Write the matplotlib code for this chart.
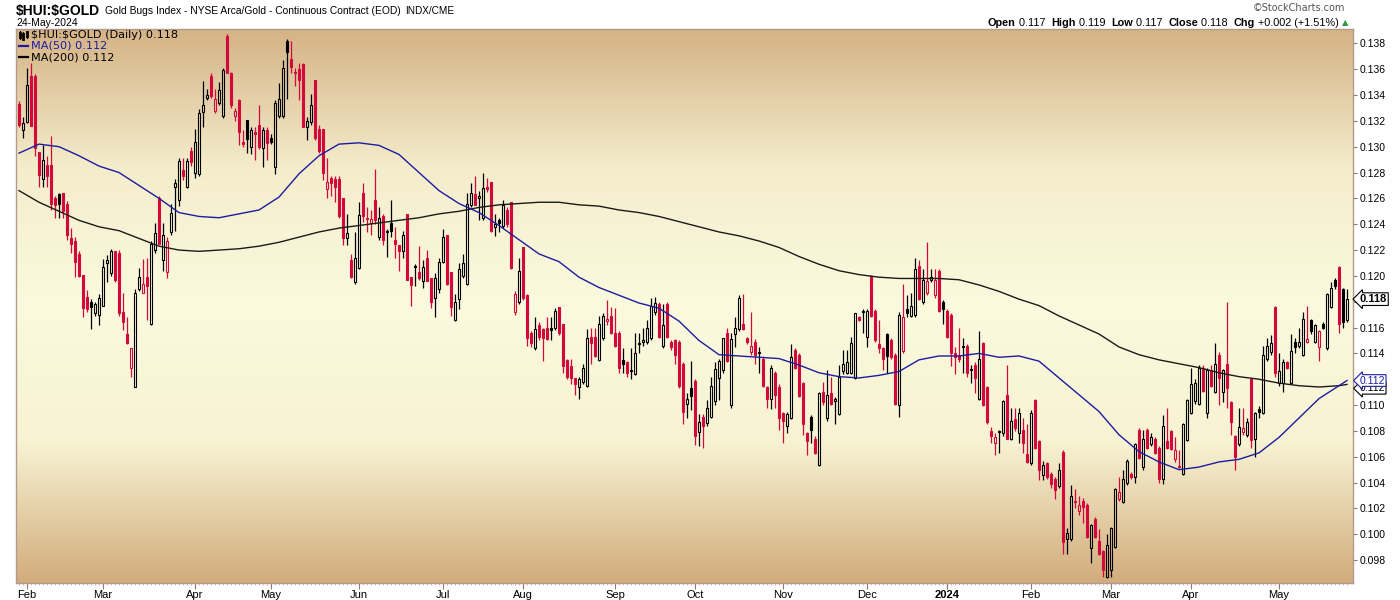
import matplotlib
matplotlib.use("Agg")
import matplotlib.pyplot as plt
import matplotlib.transforms as mtransforms
from matplotlib.collections import LineCollection
from matplotlib.colors import LinearSegmentedColormap
from matplotlib.lines import Line2D
import numpy as np
import pandas as pd

# daily candles, prices in units of 0.0001 (HUI / gold ratio)
opens = [
    1333, 1313, 1319, 1355, 1355, 1296, 1275, 1286, 1286, 1260,
    1263, 1264, 1256, 1229, 1227, 1217, 1201, 1184, 1180, 1171, 1170,
    1177, 1210, 1202, 1219, 1218, 1172, 1155, 1129, 1114, 1190,
    1187, 1199, 1163, 1220, 1260, 1212, 1203, 1234, 1269, 1259,
    1282, 1269, 1297, 1280, 1279, 1327, 1338, 1355, 1328, 1334,
    1324, 1386, 1357, 1324, 1336, 1304, 1321, 1300, 1311, 1317,
    1299, 1313, 1307, 1284, 1324, 1324, 1382, 1368, 1358, 1360,
    1364, 1315, 1319, 1352, 1314, 1314, 1267, 1276, 1275, 1275,
    1260, 1229, 1212, 1195, 1206, 1264, 1244, 1241, 1259, 1230,
    1246, 1235, 1241, 1228, 1224, 1219, 1248, 1199, 1208, 1203,
    1196, 1214, 1198, 1183, 1190, 1211, 1232, 1203, 1166, 1182,
    1200, 1194, 1255, 1263, 1260, 1245, 1269, 1273, 1238, 1243,
    1239, 1251, 1257, 1172, 1180, 1222, 1185, 1156, 1144, 1162,
    1159, 1160, 1160, 1160, 1176, 1163, 1135, 1130, 1121, 1114,
    1118, 1115, 1153, 1153, 1135, 1152, 1165, 1169, 1156, 1156,
    1135, 1133, 1127, 1124, 1148, 1149, 1149, 1152, 1172, 1178,
    1146, 1178, 1149, 1150, 1149, 1132, 1101, 1113, 1119, 1079,
    1091, 1086, 1091, 1103, 1121, 1127, 1156, 1100, 1155, 1159,
    1163, 1152, 1141, 1149, 1141, 1136, 1114, 1105, 1125, 1114,
    1094, 1084, 1090, 1143, 1139, 1117, 1078, 1091, 1074, 1054,
    1110, 1090, 1109, 1103, 1093, 1126, 1125, 1125, 1121, 1168,
    1173, 1153, 1200, 1173, 1147, 1144, 1155, 1150, 1139, 1100,
    1142, 1174, 1169, 1170, 1208, 1180, 1187, 1197, 1185, 1204,
    1180, 1173, 1170, 1140, 1139, 1145, 1146, 1128, 1131, 1105, 1148,
    1114, 1080, 1071, 1080, 1078, 1108, 1074, 1089, 1078, 1081,
    1062, 1055, 1104, 1072, 1046, 1055, 1047, 1043, 1037, 1064,
    996, 996, 1025, 1018, 1026, 1023, 989, 1012, 995, 987,
    967, 972, 990, 1027, 1025, 1040, 1047, 1044, 1081, 1052,
    1081, 1070, 1074, 1067, 1043, 1072, 1080, 1058, 1053, 1047,
    1073, 1094, 1103, 1101, 1129, 1094, 1127, 1110, 1139, 1110,
    1132, 1102, 1076, 1070, 1079, 1077, 1120, 1074, 1097, 1094,
    1136, 1141, 1176, 1117, 1117, 1133, 1117, 1149, 1146, 1139,
    1149, 1166, 1149, 1145, 1163, 1144, 1176, 1197, 1207, 1190, 1166,
]
highs = [
    1335, 1323, 1361, 1365, 1356, 1296, 1301, 1293, 1308, 1262,
    1264, 1264, 1258, 1237, 1230, 1219, 1201, 1189, 1182, 1180, 1186,
    1213, 1216, 1221, 1219, 1220, 1187, 1168, 1144, 1190, 1206,
    1213, 1214, 1227, 1241, 1262, 1241, 1230, 1256, 1275, 1291,
    1291, 1291, 1300, 1314, 1329, 1351, 1345, 1357, 1345, 1350,
    1361, 1387, 1358, 1330, 1337, 1313, 1321, 1315, 1315, 1332,
    1315, 1315, 1310, 1336, 1349, 1367, 1383, 1382, 1361, 1365,
    1365, 1323, 1341, 1352, 1317, 1314, 1291, 1277, 1277, 1277,
    1260, 1248, 1217, 1234, 1257, 1272, 1253, 1251, 1283, 1253,
    1248, 1236, 1259, 1238, 1224, 1235, 1248, 1199, 1209, 1223,
    1212, 1220, 1198, 1202, 1214, 1236, 1232, 1203, 1186, 1210,
    1217, 1264, 1272, 1277, 1266, 1280, 1276, 1273, 1248, 1245,
    1259, 1253, 1257, 1188, 1214, 1222, 1186, 1157, 1168, 1164,
    1160, 1168, 1168, 1175, 1176, 1163, 1136, 1136, 1121, 1122,
    1132, 1159, 1160, 1160, 1169, 1171, 1181, 1176, 1175, 1157,
    1144, 1134, 1144, 1156, 1156, 1160, 1166, 1183, 1184, 1180,
    1178, 1180, 1150, 1151, 1150, 1133, 1109, 1134, 1120, 1093,
    1093, 1104, 1122, 1133, 1136, 1152, 1160, 1156, 1168, 1185,
    1186, 1153, 1172, 1151, 1145, 1138, 1115, 1131, 1126, 1116,
    1095, 1095, 1147, 1144, 1140, 1118, 1079, 1092, 1076, 1110,
    1118, 1127, 1122, 1106, 1131, 1143, 1143, 1153, 1171, 1169,
    1174, 1174, 1201, 1174, 1166, 1145, 1156, 1152, 1140, 1172,
    1194, 1185, 1187, 1214, 1212, 1205, 1226, 1205, 1205, 1205,
    1181, 1174, 1171, 1145, 1160, 1152, 1147, 1131, 1133, 1157, 1149,
    1115, 1083, 1078, 1081, 1104, 1131, 1098, 1098, 1098, 1090,
    1085, 1096, 1105, 1073, 1057, 1056, 1048, 1044, 1055, 1065,
    1005, 1038, 1035, 1030, 1028, 1024, 1008, 1013, 1004, 988,
    1000, 1006, 1036, 1044, 1050, 1058, 1048, 1071, 1082, 1081,
    1082, 1078, 1075, 1068, 1092, 1098, 1081, 1075, 1065, 1086,
    1105, 1129, 1120, 1131, 1131, 1129, 1131, 1148, 1141, 1128,
    1180, 1103, 1077, 1098, 1098, 1090, 1121, 1095, 1099, 1146,
    1152, 1154, 1177, 1140, 1136, 1134, 1155, 1152, 1160, 1172,
    1177, 1167, 1163, 1158, 1164, 1187, 1195, 1198, 1208, 1191, 1190,
]
lows = [
    1315, 1307, 1318, 1316, 1293, 1269, 1269, 1269, 1251, 1245,
    1245, 1245, 1228, 1218, 1199, 1199, 1168, 1172, 1159, 1169, 1162,
    1177, 1195, 1200, 1195, 1169, 1158, 1147, 1122, 1114, 1188,
    1187, 1166, 1162, 1218, 1225, 1204, 1198, 1232, 1235, 1254,
    1274, 1268, 1285, 1276, 1277, 1315, 1336, 1338, 1326, 1332,
    1322, 1358, 1330, 1320, 1301, 1300, 1295, 1294, 1290, 1298,
    1284, 1290, 1302, 1279, 1322, 1322, 1337, 1357, 1347, 1336,
    1315, 1305, 1317, 1305, 1295, 1274, 1260, 1262, 1257, 1245,
    1224, 1224, 1198, 1194, 1205, 1242, 1234, 1232, 1240, 1228,
    1224, 1215, 1230, 1214, 1204, 1214, 1197, 1177, 1192, 1197,
    1191, 1196, 1175, 1168, 1187, 1210, 1193, 1169, 1165, 1174,
    1198, 1193, 1253, 1255, 1243, 1243, 1265, 1234, 1231, 1234,
    1237, 1238, 1205, 1170, 1178, 1181, 1146, 1145, 1143, 1150,
    1134, 1150, 1150, 1158, 1154, 1125, 1120, 1116, 1108, 1105,
    1116, 1114, 1132, 1137, 1134, 1150, 1162, 1155, 1145, 1125,
    1125, 1122, 1120, 1123, 1140, 1146, 1147, 1150, 1170, 1152,
    1144, 1152, 1143, 1132, 1113, 1085, 1090, 1096, 1069, 1068,
    1067, 1084, 1090, 1100, 1104, 1125, 1133, 1098, 1145, 1157,
    1158, 1147, 1139, 1132, 1125, 1114, 1098, 1097, 1098, 1081,
    1071, 1078, 1089, 1128, 1106, 1077, 1061, 1071, 1062, 1053,
    1100, 1088, 1100, 1085, 1092, 1124, 1124, 1124, 1120, 1165,
    1156, 1145, 1168, 1149, 1140, 1127, 1125, 1136, 1100, 1091,
    1140, 1168, 1168, 1168, 1181, 1178, 1185, 1195, 1183, 1172,
    1163, 1152, 1130, 1124, 1133, 1125, 1122, 1117, 1109, 1104, 1099,
    1085, 1071, 1061, 1063, 1076, 1074, 1073, 1080, 1071, 1063,
    1055, 1054, 1066, 1042, 1042, 1043, 1036, 1027, 1036, 985,
    985, 995, 1020, 1015, 1009, 997, 978, 997, 984, 967,
    966, 967, 989, 1026, 1024, 1038, 1043, 1040, 1058, 1050,
    1066, 1068, 1062, 1040, 1039, 1066, 1065, 1056, 1051, 1046,
    1072, 1093, 1101, 1100, 1110, 1090, 1114, 1109, 1100, 1102,
    1098, 1077, 1050, 1068, 1077, 1075, 1067, 1060, 1090, 1093,
    1134, 1139, 1122, 1115, 1110, 1128, 1116, 1140, 1144, 1138,
    1148, 1155, 1148, 1134, 1159, 1143, 1175, 1190, 1156, 1160, 1164,
]
closes = [
    1317, 1318, 1348, 1316, 1299, 1278, 1290, 1277, 1256, 1255,
    1256, 1250, 1232, 1225, 1211, 1200, 1175, 1174, 1176, 1178, 1183,
    1207, 1212, 1219, 1197, 1171, 1164, 1148, 1144, 1187, 1199,
    1194, 1192, 1225, 1233, 1225, 1232, 1227, 1249, 1272, 1289,
    1277, 1289, 1288, 1304, 1326, 1332, 1340, 1339, 1337, 1344,
    1359, 1357, 1332, 1328, 1311, 1302, 1306, 1313, 1310, 1300,
    1313, 1303, 1304, 1334, 1337, 1361, 1373, 1362, 1357, 1352,
    1315, 1320, 1332, 1307, 1297, 1280, 1273, 1272, 1269, 1246,
    1229, 1233, 1199, 1214, 1247, 1246, 1245, 1244, 1243, 1245,
    1228, 1234, 1235, 1225, 1219, 1232, 1197, 1193, 1207, 1198,
    1207, 1196, 1180, 1198, 1211, 1230, 1194, 1176, 1180, 1205,
    1210, 1256, 1264, 1255, 1262, 1268, 1267, 1235, 1240, 1241,
    1255, 1240, 1206, 1186, 1204, 1183, 1152, 1148, 1159, 1153,
    1152, 1151, 1158, 1173, 1156, 1130, 1122, 1121, 1116, 1120,
    1129, 1152, 1148, 1138, 1163, 1169, 1167, 1156, 1146, 1129,
    1132, 1125, 1126, 1140, 1147, 1150, 1160, 1177, 1179, 1153,
    1162, 1153, 1145, 1139, 1115, 1095, 1105, 1107, 1076, 1087,
    1084, 1098, 1115, 1128, 1134, 1152, 1134, 1151, 1160, 1183,
    1159, 1149, 1146, 1139, 1140, 1115, 1105, 1129, 1108, 1090,
    1088, 1093, 1137, 1129, 1107, 1085, 1072, 1081, 1063, 1109,
    1102, 1108, 1101, 1105, 1122, 1132, 1133, 1148, 1171, 1166,
    1172, 1173, 1169, 1150, 1144, 1136, 1138, 1137, 1101, 1170,
    1168, 1171, 1177, 1205, 1182, 1197, 1196, 1199, 1197, 1173,
    1174, 1153, 1140, 1137, 1136, 1146, 1125, 1127, 1121, 1136, 1100,
    1087, 1076, 1075, 1079, 1103, 1074, 1088, 1082, 1094, 1071,
    1056, 1094, 1067, 1050, 1054, 1044, 1039, 1034, 1050, 994,
    1001, 1030, 1026, 1023, 1021, 998, 1007, 998, 985, 972,
    992, 1005, 1035, 1033, 1043, 1057, 1044, 1070, 1059, 1074,
    1067, 1075, 1063, 1043, 1084, 1067, 1066, 1065, 1052, 1085,
    1104, 1116, 1117, 1129, 1111, 1127, 1115, 1132, 1121, 1127,
    1113, 1087, 1060, 1083, 1082, 1087, 1073, 1094, 1095, 1139,
    1146, 1148, 1125, 1126, 1133, 1129, 1142, 1145, 1149, 1167,
    1151, 1157, 1162, 1157, 1160, 1186, 1191, 1192, 1163, 1164, 1182,
]

# moving averages read every 5th session plus the last one (same units)
ma50_5d = [
    1295, 1302, 1300, 1293, 1285, 1280, 1270, 1260, 1249, 1246,
    1245, 1248, 1251, 1261, 1279, 1293, 1302, 1303, 1301, 1294,
    1280, 1266, 1256, 1249, 1239, 1228, 1217, 1211, 1199, 1191,
    1185, 1179, 1175, 1165, 1150, 1139, 1138, 1137, 1136, 1131,
    1125, 1122, 1121, 1123, 1126, 1135, 1138, 1138, 1140, 1137,
    1138, 1134, 1121, 1108, 1095, 1077, 1064, 1056, 1050, 1052,
    1056, 1058, 1063, 1075, 1090, 1105, 1115, 1119,
]
ma200_5d = [
    1266, 1257, 1250, 1243, 1238, 1235, 1229, 1223, 1220, 1219,
    1220, 1221, 1223, 1226, 1230, 1234, 1237, 1239, 1241, 1243,
    1245, 1248, 1250, 1253, 1255, 1256, 1257, 1257, 1255, 1254,
    1251, 1249, 1246, 1242, 1238, 1234, 1231, 1227, 1222, 1215,
    1209, 1204, 1201, 1199, 1198, 1198, 1198, 1197, 1193, 1188,
    1182, 1177, 1169, 1162, 1155, 1145, 1139, 1135, 1132, 1129,
    1125, 1122, 1120, 1117, 1115, 1114, 1115, 1116,
]

last_day = '2024-05-24'
nyse_holidays = ['2023-01-16', '2023-02-20', '2023-04-07', '2023-05-29',
                 '2023-06-19', '2023-07-04', '2023-09-04', '2023-11-23',
                 '2023-12-25', '2024-01-01', '2024-01-15', '2024-02-19',
                 '2024-03-29']

RED = '#d20a3c'
BLUE = '#1c1ca0'
NARROW = ['Liberation Sans Narrow', 'Liberation Sans', 'DejaVu Sans']

o = np.array(opens) / 1e4
hi = np.array(highs) / 1e4
lo = np.array(lows) / 1e4
c = np.array(closes) / 1e4
n = len(c)
idx = np.arange(n)
dates = pd.bdate_range(end=last_day, periods=n, freq='C', holidays=nyse_holidays)

plt.rcParams['font.family'] = ['Liberation Sans', 'DejaVu Sans']

W, H = 1400, 600
fig = plt.figure(figsize=(W / 100, H / 100), dpi=100)
L, R, T, B = 16, 1353, 29, 583
ax = fig.add_axes([L / W, 1 - B / H, (R - L) / W, (B - T) / H])
ymin, ymax = 0.096228, 0.13911
xmin, xmax = -0.75, n + 0.5

# background gradient
bg = LinearSegmentedColormap.from_list('bg', ['#d2ac7c', '#f7f2d2', '#fbfade', '#f4edcc', '#d5b386'])
ax.imshow(np.linspace(0, 1, 256).reshape(-1, 1), cmap=bg, origin='lower', aspect='auto',
          extent=[xmin, xmax, ymin, ymax], zorder=0, interpolation='bilinear')

# candles: black/red = up/down vs previous close, filled when close < open
prev = np.r_[o[0], c[:-1]]
edge = np.where(c >= prev, 'black', RED)
face = [e if cc < oo else 'none' for e, cc, oo in zip(edge, c, o)]
body_lo = np.minimum(o, c)
body_hi = np.maximum(o, c)
ax.bar(idx, np.maximum(body_hi - body_lo, 0.00004), bottom=body_lo, width=0.6,
       color=face, edgecolor=edge, linewidth=0.8, zorder=3)
segs = [[(i, body_hi[i]), (i, max(hi[i], body_hi[i]))] for i in idx]
segs += [[(i, min(lo[i], body_lo[i])), (i, body_lo[i])] for i in idx]
ax.add_collection(LineCollection(segs, colors=list(edge) * 2, linewidths=0.9, zorder=2))

# moving averages
k = np.r_[np.arange(0, n - 1, 5), n - 1]
ma50 = np.array(ma50_5d) / 1e4
ma200 = np.array(ma200_5d) / 1e4
ax.plot(k, ma200, color='#1a1a1a', lw=1.0, zorder=4)
ax.plot(k, ma50, color=BLUE, lw=1.0, zorder=4)

ax.set_xlim(xmin, xmax)
ax.set_ylim(ymin, ymax)

# axes styling
for s in ax.spines.values():
    s.set_color('#b29a8c')
    s.set_linewidth(1.0)
tags = [c[-1], ma50[-1], ma200[-1]]
yt = np.arange(0.098, 0.1381, 0.002)
ax.yaxis.tick_right()
ax.set_yticks(yt)
ax.set_yticklabels(['' if min(abs(v - t) for t in tags) < 0.0006 else f'{v:.3f}' for v in yt])
ax.tick_params(axis='y', length=3, width=0.8, color='#8a7a70', pad=2, labelsize=7.5)

starts = [i for i in range(1, n) if dates[i].month != dates[i - 1].month]
ax.set_xticks(starts)
ax.set_xticklabels(['2024' if dates[i].month == 1 else dates[i].strftime('%b') for i in starts],
                   family=NARROW)
for lab, i in zip(ax.get_xticklabels(), starts):
    if dates[i].month == 1:
        lab.set_fontweight('bold')
ax.set_xticks(idx, minor=True)
ax.tick_params(axis='x', which='major', length=4, width=0.8, color='#8a7a70', pad=1, labelsize=8)
ax.tick_params(axis='x', which='minor', length=1.5, width=0.5, color='#b7a396')

# right-side value tags
blend = mtransforms.blended_transform_factory(ax.transAxes, ax.transData)
ax.text(1.005, c[-1], f'{c[-1]:.3f}', transform=blend, ha='left', va='center', fontsize=8,
        fontweight='bold', clip_on=False, zorder=6,
        bbox=dict(boxstyle='larrow,pad=0.12', fc='white', ec='black', lw=0.8))
ax.text(1.005, ma50[-1], f'{ma50[-1]:.3f}', transform=blend, ha='left', va='center', fontsize=7.5,
        color=BLUE, clip_on=False, zorder=7,
        bbox=dict(boxstyle='larrow,pad=0.08', fc='white', ec=BLUE, lw=0.8))
ax.text(1.005, ma200[-1] - 0.0003, f'{ma200[-1]:.3f}', transform=blend, ha='left', va='center',
        fontsize=7.5, color='black', clip_on=False, zorder=6,
        bbox=dict(boxstyle='larrow,pad=0.08', fc='white', ec='black', lw=0.8))

# header texts in pixel coordinates
pix = mtransforms.IdentityTransform()
renderer = fig.canvas.get_renderer()


def put(x, y, s, **kw):
    return fig.text(x, H - y, s, transform=pix, va='center', **kw)


def chain(x, y, parts):
    for s, kw in parts:
        t = put(x, y, s, **kw)
        x = t.get_window_extent(renderer).x1
    return x


x = chain(16, 11, [(r'\$HUI:\$GOLD', dict(fontsize=10, fontweight='bold', family=NARROW))])
x = chain(x + 5, 11, [('Gold Bugs Index - NYSE Arca/Gold - Continuous Contract (EOD)', dict(fontsize=7.4))])
put(x + 4, 11, 'INDX/CME', fontsize=7.2)
put(16, 23, '24-May-2024', fontsize=7.5)
put(1345, 8, '©StockCharts.com', fontsize=7, color='#555555', ha='right', family='DejaVu Sans')

bold = dict(fontsize=7.8, fontweight='bold')
reg = dict(fontsize=7.8)
x = chain(988, 23, [('Open', bold), (' 0.117  ', reg), ('High', bold), (' 0.119  ', reg),
                    ('Low', bold), (' 0.117  ', reg), ('Close', bold), (' 0.118  ', reg),
                    ('Chg', bold), (' +0.002 (+1.51%) ', reg)])
put(x, 23, '▲', fontsize=6, color='#2a9a3a', family='DejaVu Sans')

# legend inside the price panel
mono = dict(fontsize=8.1, family='DejaVu Sans')
put(31, 35, rf'\$HUI:\$GOLD (Daily) {c[-1]:.3f}', color='black', **mono)
put(31, 46, f'MA(50) {ma50[-1]:.3f}', color=BLUE, **mono)
put(31, 57, f'MA(200) {ma200[-1]:.3f}', color='black', **mono)
fig.add_artist(Line2D([19, 28], [H - 46, H - 46], transform=pix, color=BLUE, lw=1.6))
fig.add_artist(Line2D([19, 28], [H - 57, H - 57], transform=pix, color='black', lw=1.6))
for xi, y0, y1, b0, b1 in [(19.5, 31, 39, 33, 37), (23, 32, 40, 34, 39), (26.5, 31, 38, 32, 36)]:
    fig.add_artist(Line2D([xi, xi], [H - y0, H - y1], transform=pix, color='black', lw=0.8))
    fig.add_artist(Line2D([xi, xi], [H - b0, H - b1], transform=pix, color='black', lw=2.0))

fig.savefig('out.png', dpi=100)
